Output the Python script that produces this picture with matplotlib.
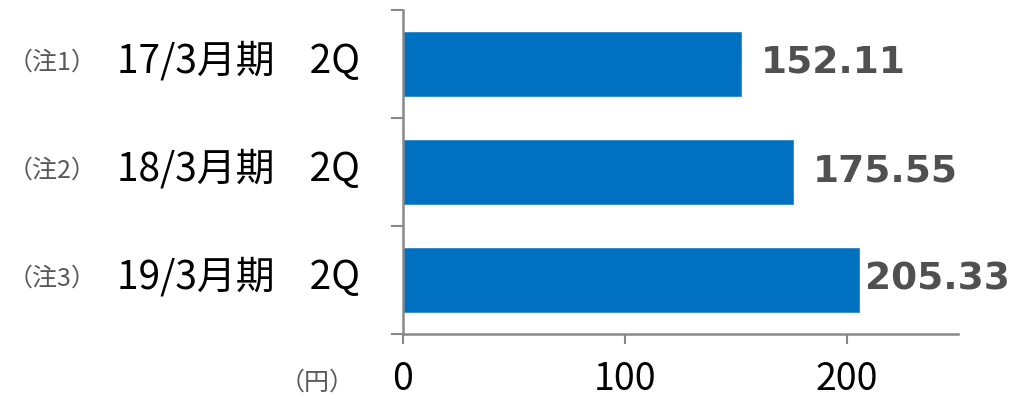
import matplotlib
matplotlib.use('Agg')
import matplotlib.pyplot as plt

plt.rcParams['font.family'] = ['Noto Sans CJK JP', 'DejaVu Sans']

# 1株当たり配当金（円）
periods = ['17/3月期    2Q', '18/3月期    2Q', '19/3月期    2Q']
notes = ['（注1）', '（注2）', '（注3）']
values = [152.11, 175.55, 205.33]
xticks = [0, 100, 200]

fig = plt.figure(figsize=(10.36, 3.99), dpi=100)
ax = fig.add_axes([0.389, 0.163, 0.5357, 0.812])

pos = list(range(len(values)))
ax.barh(pos, values, height=0.6, color='#0070C0', edgecolor='#2b86cc', linewidth=0.6)
ax.set_xlim(0, 250)
ax.set_ylim(2.5, -0.5)

grey = '#898989'
for s in ['top', 'right']:
    ax.spines[s].set_visible(False)
for s in ['left', 'bottom']:
    ax.spines[s].set_color(grey)
    ax.spines[s].set_linewidth(1.8)

ax.set_xticks(xticks)
ax.set_xticklabels([str(t) for t in xticks], fontsize=27, color='black')
ax.tick_params(axis='x', length=7, width=1.5, color=grey, pad=12)
ax.set_yticks([-0.5, 0.5, 1.5, 2.5])
ax.set_yticklabels([])
ax.tick_params(axis='y', length=9, width=1.5, color=grey)

# 値ラベル（最後の棒は右端に収まるよう詰める）
gaps = [20, 20, 6]
for i, v in enumerate(values):
    ax.annotate(f'{v:.2f}', xy=(v, i), xytext=(gaps[i] * 0.72, 0), textcoords='offset points',
                ha='left', va='center', fontsize=27, fontweight='bold', color='#505050',
                family='DejaVu Sans', annotation_clip=False)

# 期間ラベルと注記
for i in pos:
    ax.annotate(periods[i], xy=(0, i), xytext=(-31, 2), textcoords='offset points',
                ha='right', va='center', fontsize=28, color='black', annotation_clip=False)
    ax.annotate(notes[i], xy=(0, i), xytext=(-221, 1), textcoords='offset points',
                ha='right', va='center', fontsize=18, color='#595959', annotation_clip=False)

fig.text(0.306, 0.04, '（円）', ha='center', va='center', fontsize=18, color='#595959')

fig.savefig('out.png', dpi=100)
